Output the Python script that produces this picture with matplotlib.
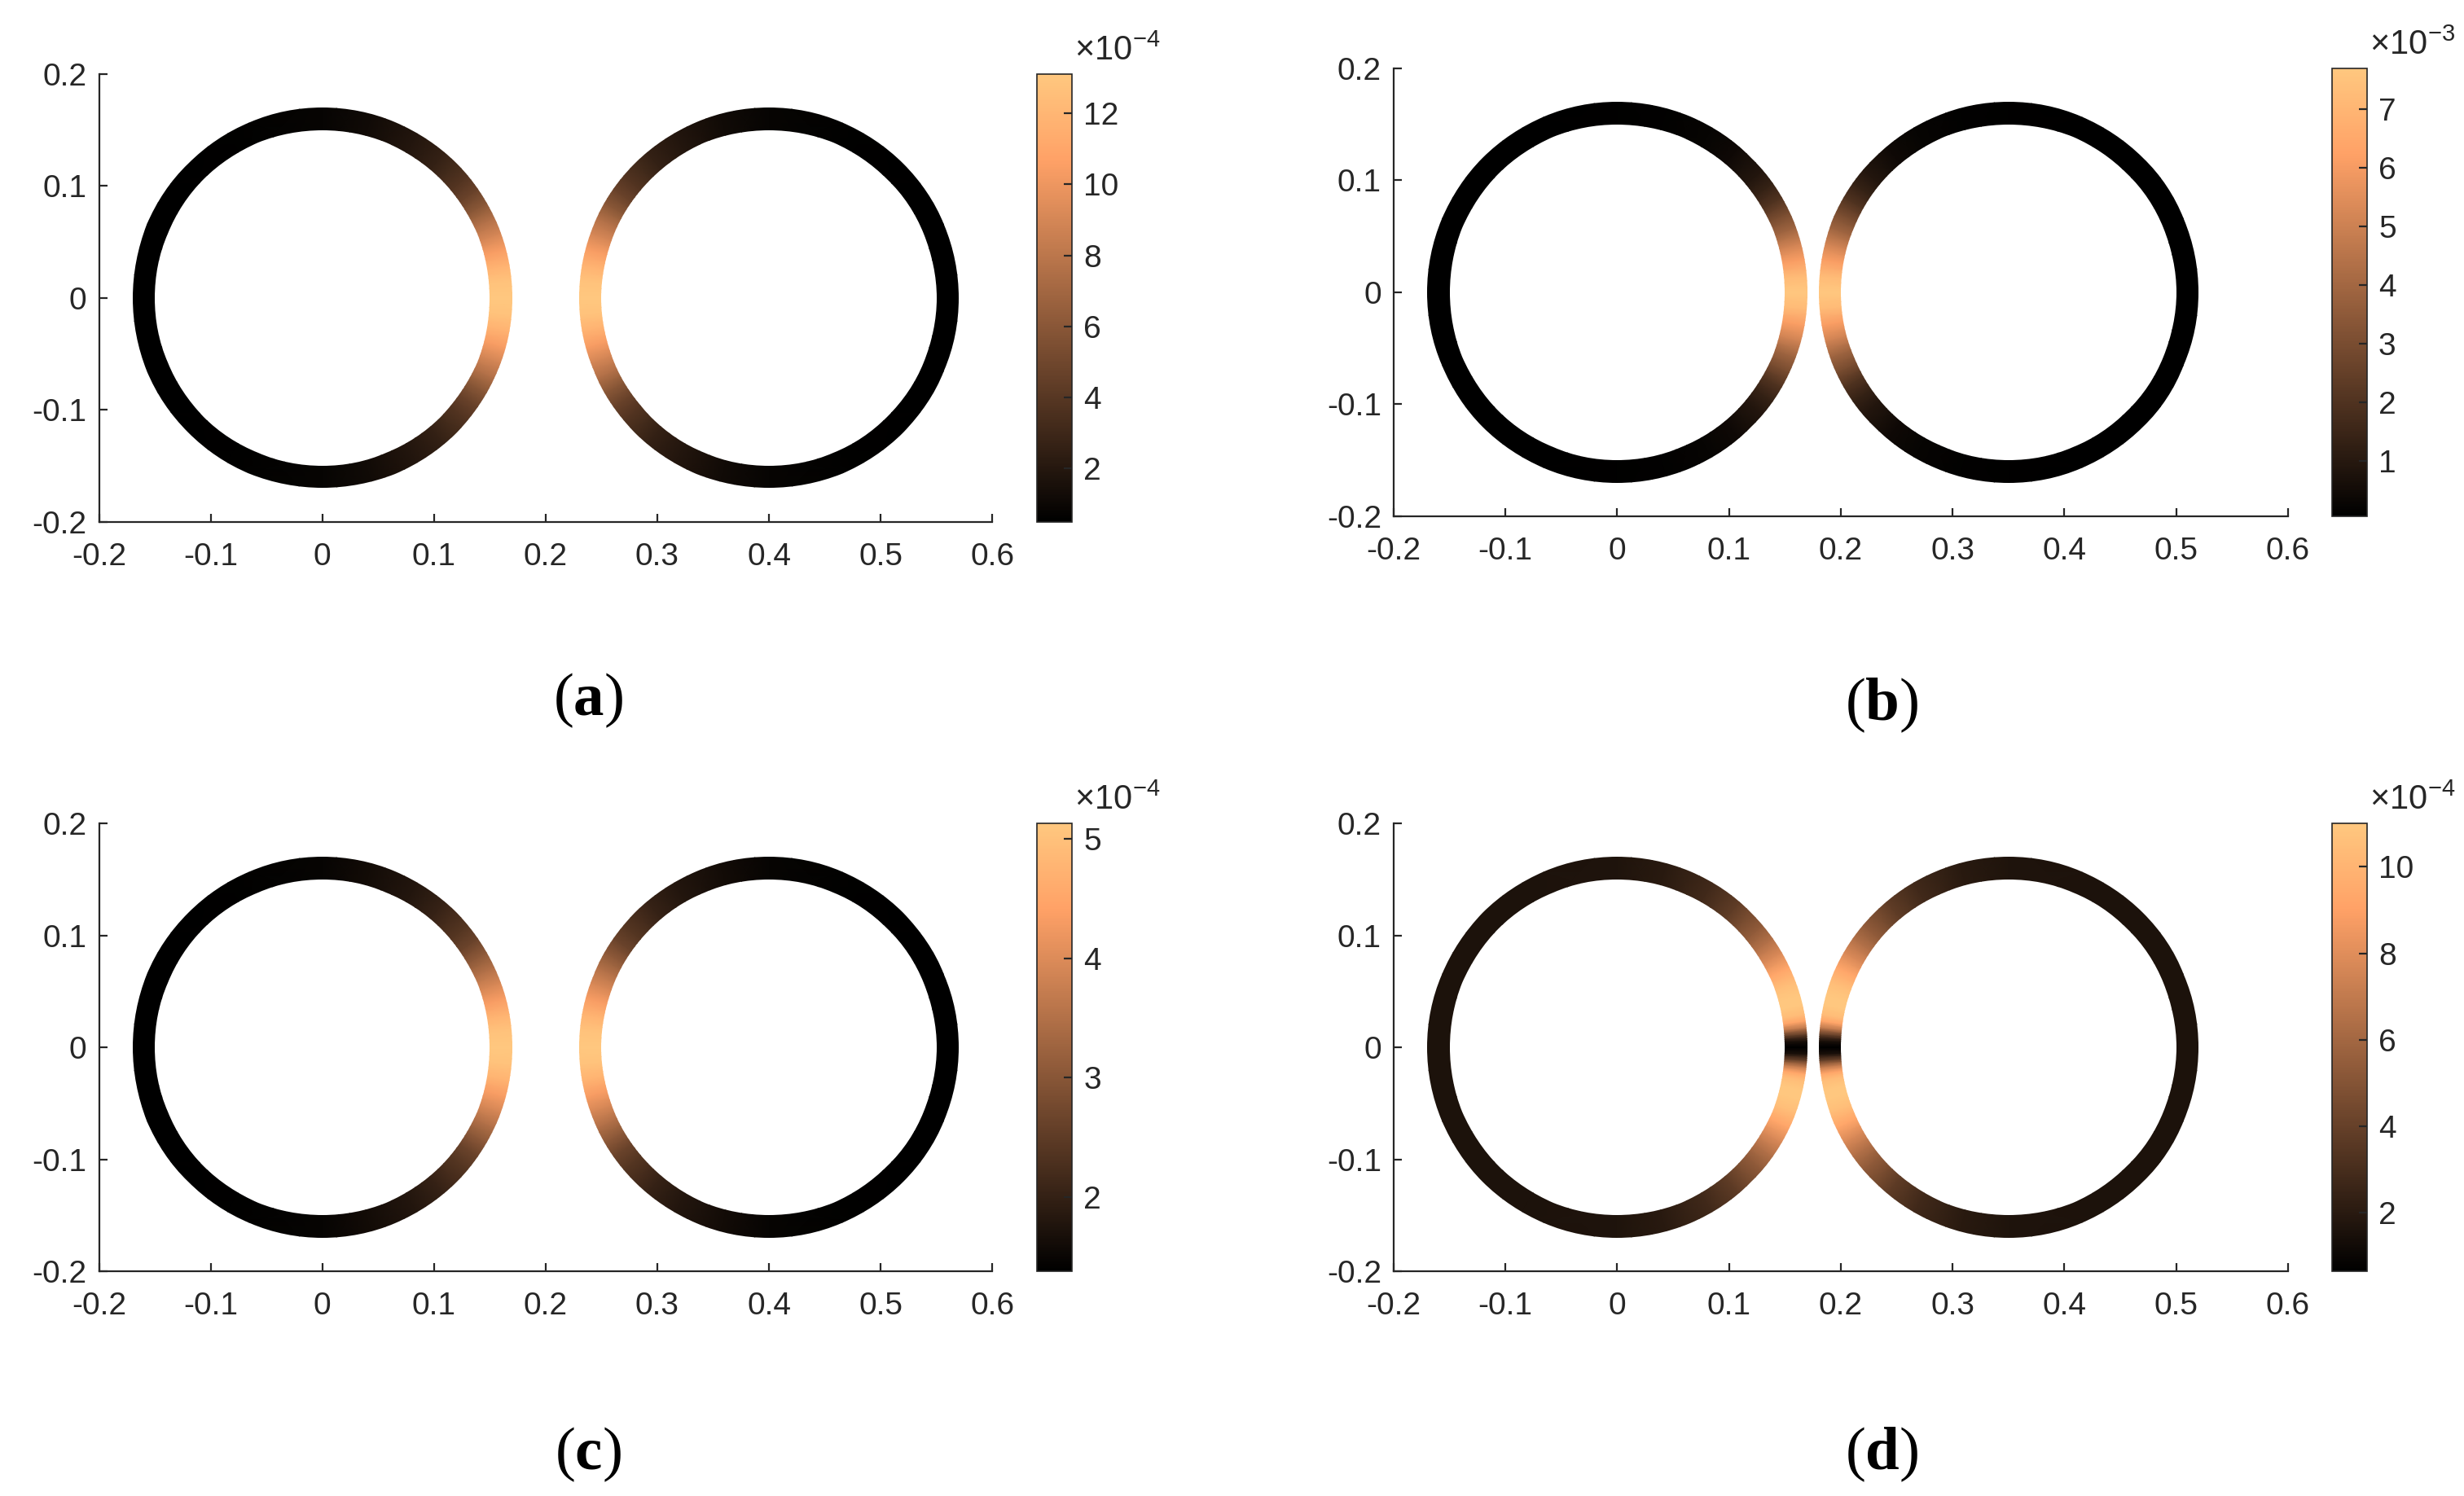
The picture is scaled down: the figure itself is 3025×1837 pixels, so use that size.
import numpy as np
import matplotlib
matplotlib.use("Agg")
import matplotlib.pyplot as plt
from matplotlib.colors import Normalize
from matplotlib.patches import Wedge

plt.rcParams["font.family"] = ["Liberation Sans", "DejaVu Sans"]
plt.rcParams["mathtext.fontset"] = "custom"
plt.rcParams["mathtext.rm"] = "Liberation Sans"
plt.rcParams["mathtext.bf"] = "Liberation Serif:bold"

# ring geometry (inner / outer radius) and ring centres per panel
R_IN, R_OUT = 0.15, 0.17
centers_a = [0.0, 0.40]
centers_b = [0.0, 0.35]
centers_c = [0.0, 0.40]
centers_d = [0.0, 0.35]

# field along each ring: angle (deg) measured from the point facing the other ring,
# values in units of 10^exp (read off the colour of the rings)
phi_a = [0, 5, 10, 15, 20, 25, 30, 35, 40, 50, 60, 75, 90, 120, 150, 180]
val_a = [13.1, 12.8, 11.8, 10.4, 9.0, 7.6, 6.0, 4.7, 3.8, 2.6, 1.9, 1.2, 0.8, 0.55, 0.5, 0.5]

phi_b = [0, 5, 10, 15, 20, 25, 30, 35, 40, 50, 60, 75, 90, 120, 150, 180]
val_b = [7.7, 7.2, 6.1, 5.1, 3.9, 2.95, 2.0, 1.35, 0.9, 0.43, 0.25, 0.13, 0.08, 0.06, 0.05, 0.05]

phi_c = [0, 5, 10, 15, 20, 25, 30, 35, 40, 50, 60, 75, 90, 120, 150, 180]
val_c = [5.13, 5.04, 4.75, 4.33, 3.92, 3.50, 3.05, 2.65, 2.40, 2.03, 1.80, 1.60, 1.47, 1.40, 1.38, 1.38]

phi_d = [0, 2, 4, 6, 8, 10, 13, 16, 20, 25, 30, 35, 40, 50, 60, 75, 90, 120, 150, 180]
val_d = [0.65, 1.5, 4.0, 7.0, 9.2, 10.4, 11.0, 11.0, 10.5, 9.3, 7.8, 6.5, 5.4, 3.8, 2.8, 2.0, 1.7, 1.6, 1.6, 1.6]

exponents = [-4, -3, -4, -4]
cbar_ticks_a = [2, 4, 6, 8, 10, 12]
cbar_ticks_b = [1, 2, 3, 4, 5, 6, 7]
cbar_ticks_c = [2, 3, 4, 5]
cbar_ticks_d = [2, 4, 6, 8, 10]
panel_labels = ["a", "b", "c", "d"]

x_ticks = [-0.2, -0.1, 0, 0.1, 0.2, 0.3, 0.4, 0.5, 0.6]
x_ticklabels = ["-0.2", "-0.1", "0", "0.1", "0.2", "0.3", "0.4", "0.5", "0.6"]
y_ticks = [-0.2, -0.1, 0, 0.1, 0.2]
y_ticklabels = ["-0.2", "-0.1", "0", "0.1", "0.2"]

AX_COLOR = "#262626"
FS = 14

fig = plt.figure(figsize=(15.125, 9.185), dpi=200)

# [left, bottom, width, height] in figure fraction
ax_pos = [[0.0402, 0.6513, 0.3625, 0.2991],
          [0.5656, 0.6549, 0.3630, 0.2994],
          [0.0402, 0.1502, 0.3625, 0.2994],
          [0.5656, 0.1502, 0.3630, 0.2994]]
cax_x = [0.4208, 0.9464, 0.4208, 0.9464]
label_xy = [(0.2387, 0.5318), (0.7636, 0.5286), (0.2387, 0.0278), (0.7636, 0.0278)]


def draw_ring(ax, cx, facing, phi, vals, norm):
    """Colour an annulus with the angular profile, clipped to the exact ring shape."""
    phi = np.asarray(phi, dtype=float)
    vals = np.asarray(vals, dtype=float)
    ang = np.deg2rad(np.concatenate([-phi[::-1], phi[1:]]))
    cval = np.concatenate([vals[::-1], vals[1:]])
    r = np.array([R_IN - 0.02, R_OUT + 0.02])
    X = cx + facing * np.outer(r, np.cos(ang))
    Y = np.outer(r, np.sin(ang))
    C = np.vstack([cval, cval])
    mesh = ax.pcolormesh(X, Y, C, shading="gouraud", cmap="copper", norm=norm)
    ring = Wedge((cx, 0), R_OUT, 0, 360, width=R_OUT - R_IN, transform=ax.transData)
    mesh.set_clip_path(ring)
    return mesh


panels = [(centers_a, phi_a, val_a, cbar_ticks_a),
          (centers_b, phi_b, val_b, cbar_ticks_b),
          (centers_c, phi_c, val_c, cbar_ticks_c),
          (centers_d, phi_d, val_d, cbar_ticks_d)]

for i, (centers, phi, vals, cticks) in enumerate(panels):
    ax = fig.add_axes(ax_pos[i])
    norm = Normalize(vmin=min(vals), vmax=max(vals))
    mesh = draw_ring(ax, centers[0], 1, phi, vals, norm)
    draw_ring(ax, centers[1], -1, phi, vals, norm)

    ax.set_xlim(-0.2, 0.6)
    ax.set_ylim(-0.2, 0.2)
    ax.set_xticks(x_ticks)
    ax.set_xticklabels(x_ticklabels)
    ax.set_yticks(y_ticks)
    ax.set_yticklabels(y_ticklabels)
    for side in ["top", "right"]:
        ax.spines[side].set_visible(False)
    for side in ["left", "bottom"]:
        ax.spines[side].set_color(AX_COLOR)
        ax.spines[side].set_linewidth(0.8)
    ax.tick_params(direction="in", length=3.5, width=0.8, colors=AX_COLOR,
                   labelsize=FS)
    ax.tick_params(axis="x", pad=9)
    ax.tick_params(axis="y", pad=5.4)

    pos = ax_pos[i]
    cax = fig.add_axes([cax_x[i], pos[1], 0.0143, pos[3]])
    cb = fig.colorbar(mesh, cax=cax, ticks=cticks)
    cb.outline.set_edgecolor(AX_COLOR)
    cb.outline.set_linewidth(0.6)
    cax.yaxis.set_ticks_position("right")
    cax.tick_params(direction="in", length=3.5, width=0.8, colors=AX_COLOR,
                    labelsize=FS, pad=5)
    cax.annotate("\u00d710$^{%d}$" % exponents[i], xy=(1, 1), xycoords="axes fraction",
                 xytext=(1.0, 6), textcoords="offset points", ha="left",
                 va="baseline", fontsize=15, color=AX_COLOR)

    lx, ly = label_xy[i]
    fig.text(lx, ly, r"($\mathbf{%s}$)" % panel_labels[i], family="Liberation Serif",
             fontsize=27, ha="center", va="center", color="black")

fig.savefig("out.png", dpi=200)
